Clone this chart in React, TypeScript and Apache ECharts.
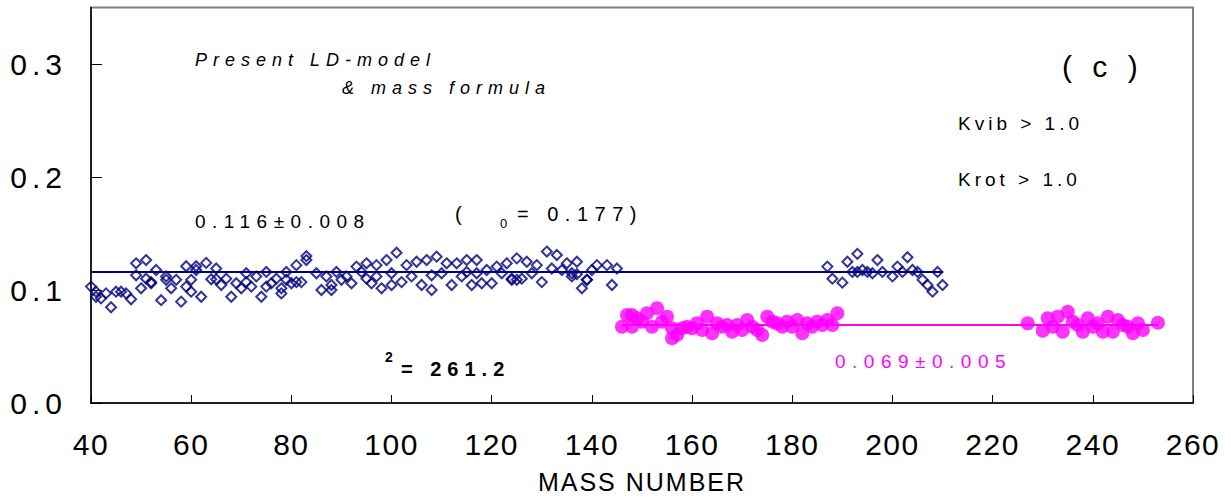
import React, { useEffect, useRef } from "react";
import * as echarts from "echarts";

// ---- data ----
const xTicks = [40, 60, 80, 100, 120, 140, 160, 180, 200, 220, 240, 260];
const yTicks = [0, 0.1, 0.2, 0.3];

const blueMass = [
  40, 41, 41, 42, 43, 44, 45, 46, 47, 48, 49, 49, 50, 51, 51, 52, 52, 53, 54, 55,
  55, 56, 57, 58, 59, 59, 60, 60, 61, 61, 62, 63, 64, 65, 65, 66, 67, 68, 69, 70,
  71, 71, 72, 73, 74, 75, 75, 76, 77, 78, 78, 79, 79, 80, 81, 81, 82, 83, 83, 85,
  86, 87, 88, 88, 89, 90, 91, 92, 93, 94, 95, 95, 96, 97, 97, 98, 99, 100, 100, 101,
  102, 103, 104, 105, 106, 107, 108, 108, 109, 110, 111, 112, 113, 114, 115, 115, 116, 117, 117, 118,
  119, 120, 121, 122, 123, 124, 124, 125, 125, 126, 127, 128, 129, 130, 131, 132, 133, 134, 135, 136,
  136, 137, 137, 138, 139, 139, 140, 141, 143, 144, 145,
  187, 188, 190, 191, 192, 193, 193, 194, 195, 196, 197, 198, 200, 201, 202, 203, 204, 205, 206, 207,
  208, 209, 210,
];
const blueValue = [
  0.103, 0.0985, 0.094, 0.0926, 0.097, 0.0847, 0.0985, 0.0985, 0.097, 0.0918, 0.1236, 0.113, 0.1015, 0.1265, 0.11, 0.107, 0.106, 0.1177, 0.091, 0.112,
  0.109, 0.1015, 0.109, 0.0897, 0.121, 0.103, 0.109, 0.0985, 0.121, 0.1177, 0.094, 0.124, 0.1095, 0.119, 0.1095, 0.1044, 0.11, 0.094, 0.106, 0.1015,
  0.1148, 0.107, 0.103, 0.112, 0.094, 0.116, 0.103, 0.106, 0.11, 0.097, 0.1015, 0.116, 0.109, 0.106, 0.122, 0.107, 0.107, 0.13, 0.1265, 0.1148,
  0.1, 0.112, 0.1044, 0.1, 0.116, 0.109, 0.112, 0.106, 0.1207, 0.116, 0.1236, 0.11, 0.106, 0.122, 0.112, 0.1015, 0.1265, 0.1148, 0.1044, 0.133,
  0.107, 0.122, 0.112, 0.125, 0.1044, 0.1265, 0.113, 0.1, 0.1295, 0.1148, 0.1236, 0.1044, 0.1236, 0.112, 0.1265, 0.116, 0.1044, 0.1265, 0.1148, 0.106,
  0.1177, 0.106, 0.1207, 0.1148, 0.1236, 0.109, 0.11, 0.128, 0.109, 0.11, 0.125, 0.1148, 0.122, 0.107, 0.134, 0.119, 0.131, 0.1177, 0.1236, 0.1148,
  0.112, 0.125, 0.114, 0.1015, 0.109, 0.109, 0.1177, 0.122, 0.122, 0.1044, 0.119,
  0.1207, 0.11, 0.1065, 0.125, 0.116, 0.132, 0.116, 0.1177, 0.116, 0.1148, 0.1265, 0.116, 0.112, 0.1207, 0.116, 0.129, 0.1177, 0.116, 0.109, 0.1044,
  0.0985, 0.116, 0.1044,
];

const pinkMass = [
  146, 147, 148, 148, 149, 150, 151, 152, 153, 154, 155, 156, 156, 157, 158, 159, 160, 161, 162, 163,
  164, 165, 166, 167, 168, 169, 170, 171, 172, 173, 174, 175, 176, 177, 178, 179, 180, 181, 182, 183,
  184, 185, 186, 187, 188, 189,
  227, 230, 231, 232, 233, 234, 235, 236, 237, 238, 239, 240, 241, 242, 243, 244, 245, 246, 247, 248,
  249, 250, 253,
];
const pinkValue = [
  0.0675, 0.0779, 0.0675, 0.0779, 0.075, 0.072, 0.0794, 0.0675, 0.0838, 0.072, 0.0764, 0.0573, 0.0661, 0.0602, 0.0661, 0.0675, 0.0661, 0.0705, 0.0646, 0.0764,
  0.0617, 0.0705, 0.0675, 0.069, 0.0631, 0.069, 0.0646, 0.0735, 0.0675, 0.0646, 0.0602, 0.0764, 0.072, 0.0705, 0.0675, 0.072, 0.0675, 0.0735, 0.0617, 0.0705,
  0.0675, 0.072, 0.069, 0.0735, 0.069, 0.0794,
  0.0705, 0.064, 0.075, 0.0675, 0.0764, 0.0631, 0.0808, 0.072, 0.069, 0.0631, 0.075, 0.0675, 0.0705, 0.0631, 0.0764, 0.0631, 0.0735, 0.069, 0.0675, 0.0617,
  0.0705, 0.0646, 0.071,
];

const blueFitRange = [40, 210];
const blueFitValue = 0.116;
const pinkFitRange = [146, 253];
const pinkFitValue = 0.069;

const css = `
#chart text[style*="lsy"]{letter-spacing:5px}
#chart text[style*="lsx"]{letter-spacing:1.5px}
#chart text[style*="lsn"]{letter-spacing:2px}
#chart text[style*="lsp"]{letter-spacing:6px}
#chart text[style*="lsk"]{letter-spacing:4px}
#chart text[style*="lsc"]{letter-spacing:6px}
#chart text[style*="lsv"]{letter-spacing:6.5px}
#chart text[style*="lsb"]{letter-spacing:6px}
`;

export default function App() {
  const ref = useRef<HTMLDivElement>(null);
  useEffect(() => {
    if (!ref.current) return;
    const chart = echarts.init(ref.current, undefined, { renderer: "svg" });
    const txt = (
      text: string,
      x: number,
      y: number,
      fam: string,
      size: number,
      extra: Record<string, unknown> = {}
    ) => ({
      type: "text",
      x,
      y,
      silent: true,
      style: {
        text,
        x: 0,
        y: 0,
        fill: "#000",
        fontSize: size,
        fontFamily: fam + ", Liberation Sans, Arial",
        align: "left",
        verticalAlign: "middle",
        ...extra,
      },
    });
    chart.setOption({
      animation: false,
      backgroundColor: "#fff",
      grid: {
        left: 91,
        right: 38,
        top: 7.5,
        bottom: 98,
        show: true,
        borderColor: "#808080",
        borderWidth: 2,
        containLabel: false,
      },
      xAxis: {
        type: "value",
        min: 40,
        max: 260,
        interval: 20,
        axisLine: { show: true, onZero: false, lineStyle: { color: "#000", width: 1.5 } },
        axisTick: { show: true, inside: true, length: 8, lineStyle: { color: "#000", width: 1 }, customValues: xTicks },
        axisLabel: {
          color: "#000",
          fontSize: 30,
          fontFamily: "lsx, Liberation Sans, Arial",
          margin: 26,
          customValues: xTicks,
        },
        splitLine: { show: false },
        name: "MASS NUMBER",
        nameLocation: "middle",
        nameGap: 66,
        nameTextStyle: {
          color: "#000",
          fontSize: 25,
          fontFamily: "lsn, Liberation Sans, Arial",
        },
      },
      yAxis: {
        type: "value",
        min: 0,
        max: 0.35,
        interval: 0.1,
        axisLine: { show: true, onZero: false, lineStyle: { color: "#000", width: 1.5 } },
        axisTick: { show: true, inside: true, length: 11, lineStyle: { color: "#000", width: 1 }, customValues: yTicks },
        axisLabel: {
          color: "#000",
          fontSize: 30,
          fontFamily: "lsy, Liberation Sans, Arial",
          margin: 24,
          customValues: yTicks,
          formatter: (v: number) => v.toFixed(1),
        },
        splitLine: { show: false },
      },
      series: [
        {
          type: "scatter",
          data: blueMass.map((m, i) => [m, blueValue[i]]),
          symbol: "diamond",
          symbolSize: 10,
          itemStyle: { color: "rgba(0,0,0,0)", borderColor: "#000080", borderWidth: 2 },
          z: 2,
        },
        {
          type: "line",
          data: blueFitRange.map((m) => [m, blueFitValue]),
          symbol: "none",
          lineStyle: { color: "#000080", width: 2 },
          z: 3,
        },
        {
          type: "scatter",
          data: pinkMass.map((m, i) => [m, pinkValue[i]]),
          symbol: "circle",
          symbolSize: 14,
          itemStyle: { color: "#ff00ff" },
          z: 2,
        },
        {
          type: "line",
          data: pinkFitRange.map((m) => [m, pinkFitValue]),
          symbol: "none",
          lineStyle: { color: "#ff00ff", width: 2 },
          z: 3,
        },
      ],
      graphic: [
        txt("Present LD-model", 195, 60, "lsp", 18, { fontStyle: "italic" }),
        txt("& mass formula", 342, 88, "lsp", 18, { fontStyle: "italic" }),
        txt("( c )", 1062, 66, "lsc", 30),
        txt("Kvib > 1.0", 958, 123, "lsk", 19),
        txt("Krot > 1.0", 958, 179, "lsk", 19),
        txt("0.116±0.008", 195, 221, "lsv", 19),
        txt("(", 455, 214, "lsv", 20),
        txt("0", 500, 223, "lsv", 13),
        txt("= 0.177)", 517, 214, "lsv", 20),
        txt("2", 385, 357, "lsb", 14, { fontWeight: "bold" }),
        txt("= 261.2", 401, 369, "lsb", 20, { fontWeight: "bold" }),
        txt("0.069±0.005", 835, 361, "lsv", 19, { fill: "#ff00ff" }),
      ],
    });
    return () => chart.dispose();
  }, []);
  return (
    <>
      <style>{css}</style>
      <div
        id="chart"
        ref={ref}
        style={{ position: "absolute", left: 0, top: 0, width: 1231, height: 501 }}
      />
    </>
  );
}
